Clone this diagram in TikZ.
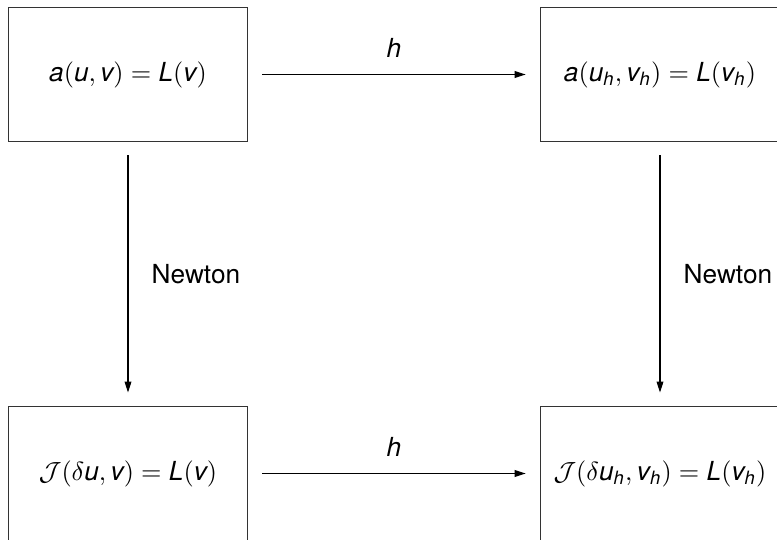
\documentclass[tikz,border=0pt]{standalone}
\usepackage{amsmath}
\usepackage{fontspec}
\setmainfont{TeX Gyre Heros}
\usetikzlibrary{positioning,arrows.meta}
\newcommand{\iv}[1]{\text{\itshape #1}}
\tikzset{
  eqbox/.style={draw=black!80,thin,minimum width=91.4pt,minimum height=50.7pt,inner sep=0pt},
  mapto/.style={thin,-{Triangle[length=4.2pt,width=2.6pt]},shorten <=5.3pt,shorten >=5.3pt},
  mlab/.style={font=\normalsize},
  every picture/.style={x=0.381pt,y=-0.381pt}
}
\begin{document}
\begin{tikzpicture}
        \useasboundingbox (0,0) rectangle (777,540);
        \node[eqbox] (cont) at (128,74.5) {$\iv{a}(\iv{u},\iv{v}) = \iv{L}(\iv{v})$};
        \node[eqbox] (disc) at (660,74.5) {$\iv{a}(\iv{u}_{\iv{h}},\iv{v}_{\iv{h}}) = \iv{L}(\iv{v}_{\iv{h}})$};
        \node[eqbox] (jcont) at (128,473.5) {$\mathcal{J}(\delta\iv{u},\iv{v}) = \iv{L}(\iv{v})$};
        \node[eqbox] (jdisc) at (660,473.5) {$\mathcal{J}(\delta\iv{u}_{\iv{h}},\iv{v}_{\iv{h}}) = \iv{L}(\iv{v}_{\iv{h}})$};
        \draw[mapto] (cont) -- node[mlab,above=3pt] {\iv{h}} (disc);
        \draw[mapto] (jcont) -- node[mlab,above=3pt] {\iv{h}} (jdisc);
        \draw[mapto] (cont) -- node[mlab,right=5.5pt] {Newton} (jcont);
        \draw[mapto] (disc) -- node[mlab,right=5.5pt] {Newton} (jdisc);
      \end{tikzpicture}
\end{document}
